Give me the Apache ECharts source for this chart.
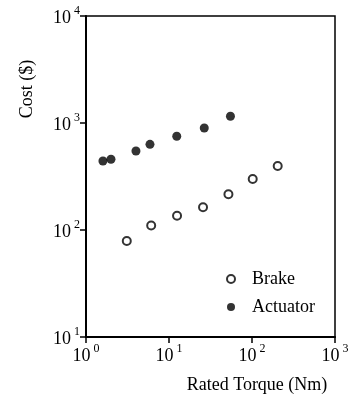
<!DOCTYPE html>
<html>
<head>
<meta charset="utf-8">
<script src="https://cdn.jsdelivr.net/npm/echarts@6/dist/echarts.min.js"></script>
<style>
  html, body { margin: 0; padding: 0; background: #fff; }
  #chart { width: 353px; height: 396px; }
</style>
</head>
<body>
<div id="chart"></div>
<script>
// rated torque (Nm) and cost ($)
const brakeTorque = [3.1, 6.1, 12.5, 25.7, 52, 102, 204]
const brakeCost = [79, 110, 136, 163, 216, 300, 396]
const actuatorTorque = [1.6, 2.0, 4.0, 5.9, 12.4, 26.6, 55]
const actuatorCost = [441, 458, 547, 632, 751, 898, 1155]

const xTicks = [1, 10, 100, 1000]
const yTicks = [10, 100, 1000, 10000]

const serif = 'Liberation Serif'

const chart = echarts.init(document.getElementById('chart'))

// "10" with the exponent raised as a superscript
const powLabel = (v) => `{b|10}{s|${Math.round(Math.log10(v))}}`
const richLabel = {
  b: { fontFamily: serif, fontSize: 18, color: '#000', verticalAlign: 'bottom' },
  s: { fontFamily: serif, fontSize: 12, color: '#000', verticalAlign: 'top', padding: [0, 0, 10, 3] },
}

const option = {
  animation: false,
  backgroundColor: '#fff',
  grid: {
    left: 86, right: 18, top: 16, bottom: 59,
    show: true,
    borderColor: '#000',
    borderWidth: 1.5,
  },
  xAxis: {
    type: 'log',
    logBase: 10,
    min: xTicks[0],
    max: xTicks[xTicks.length - 1],
    axisLine: { lineStyle: { color: '#000', width: 2 } },
    axisTick: { show: true, length: 6, lineStyle: { color: '#000', width: 1.5 } },
    minorTick: { show: false },
    splitLine: { show: false },
    axisLabel: { formatter: powLabel, rich: richLabel, margin: 6 },
  },
  yAxis: {
    type: 'log',
    logBase: 10,
    min: yTicks[0],
    max: yTicks[yTicks.length - 1],
    axisLine: { lineStyle: { color: '#000', width: 2 } },
    axisTick: { show: true, length: 6, lineStyle: { color: '#000', width: 1.5 } },
    splitLine: { show: false },
    axisLabel: { formatter: powLabel, rich: richLabel, margin: 6 },
  },
  legend: {
    orient: 'vertical',
    left: 221,
    top: 265,
    itemWidth: 8,
    itemHeight: 8,
    itemGap: 10,
    textStyle: { fontFamily: serif, fontSize: 18, color: '#000', padding: [0, 0, 0, 12] },
    data: [
      { name: 'Brake', icon: 'circle' },
      { name: 'Actuator', icon: 'circle' },
    ],
  },
  graphic: [
    {
      type: 'text',
      x: 27, y: 89,
      rotation: Math.PI / 2,
      style: { text: 'Cost ($)', font: `18px "${serif}"`, fill: '#000', align: 'center', verticalAlign: 'middle' },
    },
    {
      type: 'text',
      x: 257, y: 385,
      style: { text: 'Rated Torque (Nm)', font: `18px "${serif}"`, fill: '#000', align: 'center', verticalAlign: 'middle' },
    },
  ],
  series: [
    {
      name: 'Brake',
      type: 'scatter',
      symbol: 'circle',
      symbolSize: 8,
      itemStyle: { color: '#fff', borderColor: '#000', borderWidth: 2 },
      data: brakeTorque.map((t, i) => [t, brakeCost[i]]),
    },
    {
      name: 'Actuator',
      type: 'scatter',
      symbol: 'circle',
      symbolSize: 9,
      itemStyle: { color: '#000' },
      data: actuatorTorque.map((t, i) => [t, actuatorCost[i]]),
    },
  ],
}

chart.setOption(option)
</script>
</body>
</html>
